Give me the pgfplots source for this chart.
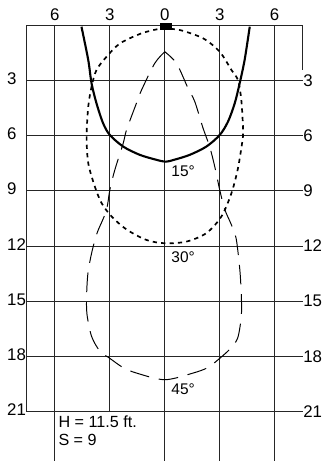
\documentclass[border=0pt]{standalone}
\usepackage{fontspec}
\setmainfont{Liberation Sans}
\usepackage{pgfplots}
\pgfplotsset{compat=1.18}

\begin{document}
\begin{tikzpicture}
\begin{axis}[
  scale only axis,
  width=8.125cm, height=11.55cm,
  xmin=-9.0, xmax=8.73,
  ymin=-1.36, ymax=23.7,
  y dir=reverse,
  hide axis,
  clip=false,
]
\path (rel axis cs:0,0) rectangle (rel axis cs:1,1);

% grid
\pgfplotsinvokeforeach{0,3,6,9,12,15,18,21}{
  \draw[line width=0.75pt, black!85] (-7.53,#1) -- (7.53,#1);
}
\pgfplotsinvokeforeach{-6,0,3,6}{
  \draw[line width=0.75pt, black!85] (#1,0) -- (#1,23.7);
}
\draw[line width=0.75pt, black!85] (-7.53,0) -- (-7.53,21);
\draw[line width=0.75pt, black!85] (7.53,0) -- (7.53,2.44);
\draw[line width=0.75pt, black!85] (-3,0) -- (-3,21);

% tick labels
\node[anchor=south, inner sep=0pt, font=\fontsize{12}{14}\selectfont] at (-6,-0.2) {6};
\node[anchor=south, inner sep=0pt, font=\fontsize{12}{14}\selectfont] at (-3,-0.2) {3};
\node[anchor=south, inner sep=0pt, font=\fontsize{12}{14}\selectfont] at (0,-0.2) {0};
\node[anchor=south, inner sep=0pt, font=\fontsize{12}{14}\selectfont] at (3,-0.2) {3};
\node[anchor=south, inner sep=0pt, font=\fontsize{12}{14}\selectfont] at (6,-0.2) {6};
\pgfplotsinvokeforeach{3,6,9,12,15,18,21}{
  \node[anchor=west, inner sep=0pt, font=\fontsize{12}{14}\selectfont] at (-8.62,#1-0.1) {#1};
  \node[anchor=west, inner sep=0pt, font=\fontsize{12}{14}\selectfont] at (7.55,#1) {#1};
}

% luminaire
\fill (-0.28,-0.1) rectangle (0.42,0.27);

% 15 degree
\addplot[black, line width=1.5pt, smooth, tension=0.5] coordinates {
  (-4.55,0.09) (-4.18,1.9) (-4.0,3.16) (-3.73,4.25) (-3.37,5.33) (-3,5.97)
  (-2.27,6.6) (-1.36,7.05) (-0.45,7.32) (0.05,7.42) (0.5,7.32) (1.36,7.05)
  (2.27,6.6) (3,5.97) (3.45,5.25) (3.82,4.25) (4.09,3.16) (4.36,1.9) (4.64,0.09)
};

% 30 degree
\addplot[black, line width=1.2pt, dash pattern=on 3pt off 3pt, smooth, tension=0.5] coordinates {
  (0.05,0.2) (-0.27,0.2) (-1.27,0.45) (-2.45,1.0) (-3.18,1.72) (-3.73,2.44)
  (-4.0,3.35) (-4.18,4.43) (-4.27,6.06) (-4.18,7.5) (-3.82,8.77) (-3.45,9.67)
  (-2.9,10.4) (-2.09,11.1) (-1.0,11.67) (0,11.85)
  (1.18,11.76) (2.27,11.3) (3.09,10.4) (3.64,9.13) (4.0,7.76)
  (4.27,6.06) (4.27,5.5) (4.18,4.07) (4.0,3.0) (3.64,2.44) (3,1.45)
  (2.09,0.72) (0.82,0.27) (0.05,0.2)
};

% 45 degree
\addplot[black, line width=0.7pt, dash pattern=on 14pt off 7pt, smooth, tension=0.5] coordinates {
  (0,1.45) (-0.55,2.08) (-1.27,3.53) (-1.55,4.25) (-2.09,5.7) (-2.27,6.42)
  (-2.73,7.87) (-3,8.95) (-3.2,10.1) (-3.7,11.3) (-4.0,12.4) (-4.2,13.5)
  (-4.27,14.7) (-4.25,15.7) (-4.0,16.9) (-3.55,17.7) (-3,18.1) (-2.28,18.6)
  (-1.54,18.9) (0,19.26)
  (1.54,18.9) (2.35,18.6) (3,18.1) (3.55,17.6) (3.98,17.0) (4.18,15.8)
  (4.18,14.7) (4.1,13.3) (3.9,11.6) (3.64,10.85) (3.27,10) (3,8.95)
  (2.73,7.69) (2.45,6.6) (2.09,5.6) (1.64,4.16) (1.27,3.43) (0.64,2.08) (0,1.45)
};

% angle labels
\node[anchor=west, inner sep=0pt, font=\fontsize{11}{13}\selectfont] at (0.35,7.96) {15°};
\node[anchor=west, inner sep=0pt, font=\fontsize{11}{13}\selectfont] at (0.35,12.6) {30°};
\node[anchor=west, inner sep=0pt, font=\fontsize{11}{13}\selectfont] at (0.35,19.8) {45°};
\node[anchor=west, inner sep=0pt, font=\fontsize{11.5}{13}\selectfont] at (-5.82,21.52) {H = 11.5 ft.};
\node[anchor=west, inner sep=0pt, font=\fontsize{11.5}{13}\selectfont] at (-5.82,22.52) {S = 9};
\end{axis}
\end{tikzpicture}
\end{document}
